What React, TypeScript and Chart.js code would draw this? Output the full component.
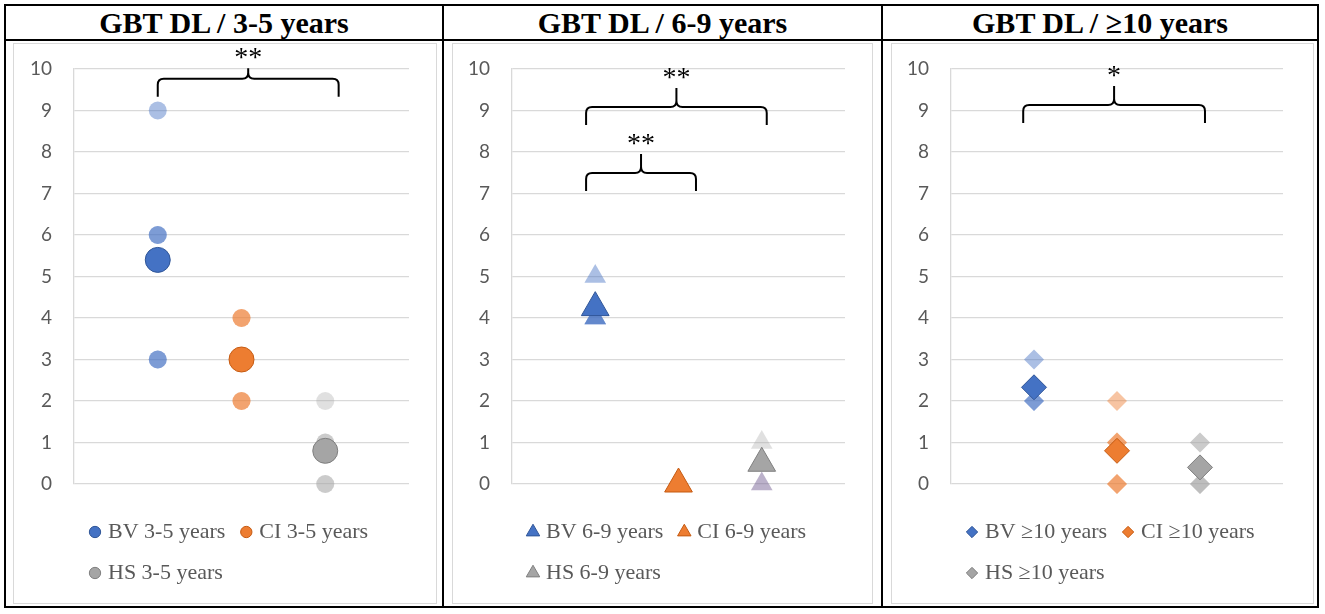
import { useEffect, useRef } from 'react';
import { Chart, registerables } from 'chart.js';

Chart.register(...registerables);

const panelTitles = ['GBT DL / 3-5 years', 'GBT DL / 6-9 years', 'GBT DL / ≥10 years'];
const ageLabels = ['3-5 years', '6-9 years', '≥10 years'];
const groups = ['BV', 'CI', 'HS'];
const groupX = [1, 2, 3];

// individual scores (stacked dots show up darker)
const bv35 = [9, 6, 6, 3, 3];
const ci35 = [4, 4, 3, 2, 2];
const hs35 = [2, 1, 1, 0, 0];
const bv69 = [5, 4, 4, 4];
const ci69 = [0, 0, 0];
const hs69 = [1, 0];
const bv10 = [3, 2, 2];
const ci10 = [2, 1, 1, 0, 0];
const hs10 = [1, 1, 0, 0, 0];

// group means (the big markers)
const means35 = [5.4, 3, 0.8];
const means69 = [4.25, 0, 0.5];
const means10 = [2.33, 0.8, 0.4];

// significance brackets: x from/to, leg ends (low) and tip (high) in score units
const brackets35 = [{ from: 1, to: 3.16, low: 9.33, high: 10.02, label: '**' }];
const brackets69 = [
  { from: 0.89, to: 3.06, low: 8.65, high: 9.54, label: '**' },
  { from: 0.89, to: 2.21, low: 7.06, high: 7.95, label: '**' },
];
const brackets10 = [{ from: 0.87, to: 3.06, low: 8.7, high: 9.59, label: '*' }];

const solid = ['#4472C4', '#ED7D31', '#A5A5A5'];
const edge = ['#2F5597', '#C55A11', '#7F7F7F'];
const faint = ['rgba(68,114,196,0.45)', 'rgba(237,125,49,0.45)', 'rgba(165,165,165,0.35)'];

type Bracket = { from: number; to: number; low: number; high: number; label: string };

type PanelDef = {
  scores: number[][];
  means: number[];
  brackets: Bracket[];
  style: string;
  r: number;
  meanR: number;
  legendBox: number;
  boxLeft: number;
  boxWidth: number;
  axisW: number;
  padRight: number;
  tints?: (string | string[])[];
};

const panels: PanelDef[] = [
  {
    scores: [bv35, ci35, hs35], means: means35, brackets: brackets35,
    style: 'circle', r: 9, meanR: 12.5, legendBox: 8,
    boxLeft: 13, boxWidth: 424, axisW: 60, padRight: 27,
  },
  {
    scores: [bv69, ci69, hs69], means: means69, brackets: brackets69,
    style: 'triangle', r: 12.5, meanR: 16, legendBox: 11,
    boxLeft: 452, boxWidth: 421, axisW: 59, padRight: 27,
    tints: [faint[0], faint[1], [faint[2], 'rgba(120,100,150,0.5)']],
  },
  {
    scores: [bv10, ci10, hs10], means: means10, brackets: brackets10,
    style: 'rectRot', r: 10, meanR: 12.5, legendBox: 8,
    boxLeft: 891, boxWidth: 423, axisW: 59, padRight: 30,
  },
];

const colLeft = [6, 444, 883];
const colWidth = [436, 437, 434];

function ScatterPanel({ p, age }: { p: PanelDef; age: string }) {
  const chartRef = useRef<HTMLCanvasElement | null>(null);

  useEffect(() => {
    if (!chartRef.current) return;

    const datasets: any[] = [];
    groups.forEach((g, i) => {
      datasets.push({
        label: `${g} ${age}`,
        data: [{ x: groupX[i], y: p.means[i] }],
        pointStyle: p.style,
        pointRadius: p.meanR,
        backgroundColor: solid[i],
        borderColor: edge[i],
        borderWidth: 1,
        clip: false,
        order: 0,
      });
    });
    groups.forEach((g, i) => {
      datasets.push({
        label: `${g} scores`,
        isScore: true,
        data: p.scores[i].map((v) => ({ x: groupX[i], y: v })),
        pointStyle: p.style,
        pointRadius: p.r,
        backgroundColor: p.tints ? p.tints[i] : faint[i],
        borderWidth: 0,
        clip: false,
        order: 1,
      });
    });

    const bracketPlugin = {
      id: 'brackets',
      afterDraw(chart: any) {
        const { ctx } = chart;
        const xs = chart.scales.x;
        const ys = chart.scales.y;
        ctx.save();
        ctx.strokeStyle = '#000';
        ctx.lineWidth = 2;
        ctx.fillStyle = '#000';
        ctx.font = '28px "Liberation Serif"';
        ctx.textAlign = 'center';
        ctx.textBaseline = 'alphabetic';
        for (const b of p.brackets) {
          const x1 = xs.getPixelForValue(b.from);
          const x2 = xs.getPixelForValue(b.to);
          const xm = (x1 + x2) / 2;
          const yLow = ys.getPixelForValue(b.low);
          const yTip = ys.getPixelForValue(b.high);
          const yBar = yLow - 18;
          const r = 6;
          ctx.beginPath();
          ctx.moveTo(x1, yLow);
          ctx.lineTo(x1, yBar + r);
          ctx.quadraticCurveTo(x1, yBar, x1 + r, yBar);
          ctx.lineTo(xm - r, yBar);
          ctx.quadraticCurveTo(xm, yBar, xm, yBar - r);
          ctx.lineTo(xm, yTip);
          ctx.moveTo(xm, yBar - r);
          ctx.quadraticCurveTo(xm, yBar, xm + r, yBar);
          ctx.lineTo(x2 - r, yBar);
          ctx.quadraticCurveTo(x2, yBar, x2, yBar + r);
          ctx.lineTo(x2, yLow);
          ctx.stroke();
          ctx.fillText(b.label, xm, yTip - 2);
        }
        ctx.restore();
      },
    };

    const chart = new Chart(chartRef.current, {
      type: 'scatter',
      data: { datasets },
      options: {
        animation: false,
        responsive: true,
        maintainAspectRatio: false,
        events: [],
        layout: { padding: { top: 25, right: p.padRight, bottom: 9, left: 0 } },
        scales: {
          x: {
            type: 'linear',
            min: 0,
            max: 4,
            ticks: { display: false },
            grid: { display: false },
            border: { display: false },
            afterFit: (s: any) => {
              s.height = 18;
            },
          },
          y: {
            min: 0,
            max: 10,
            ticks: {
              stepSize: 1,
              padding: 22,
              color: '#595959',
              font: { family: 'Lato', size: 19 },
            },
            grid: { color: '#D9D9D9', lineWidth: 1.3, drawTicks: false },
            border: { display: true, color: '#D9D9D9', width: 1.3 },
            afterFit: (s: any) => {
              s.width = p.axisW;
              s.paddingTop = 0;
              s.paddingBottom = 0;
            },
          },
        },
        plugins: {
          tooltip: { enabled: false },
          legend: {
            position: 'bottom',
            fullSize: false,
            align: 'start',
            labels: {
              usePointStyle: true,
              boxWidth: 4,
              boxHeight: p.legendBox,
              padding: 19,
              color: '#595959',
              font: { family: 'Liberation Serif', size: 22 },
              filter: (item: any, data: any) => !data.datasets[item.datasetIndex].isScore,
            },
          },
        },
      } as any,
      plugins: [bracketPlugin],
    });

    return () => chart.destroy();
  }, [p, age]);

  return (
    <div
      style={{
        position: 'absolute',
        left: p.boxLeft,
        top: 43,
        width: p.boxWidth,
        height: 561,
        border: '1px solid #D9D9D9',
        boxSizing: 'border-box',
      }}
    >
      <div style={{ position: 'relative', width: p.boxWidth - 2, height: 559 }}>
        <canvas ref={chartRef}></canvas>
      </div>
    </div>
  );
}

export default function App() {
  return (
    <div
      style={{
        position: 'absolute',
        left: 0,
        top: 0,
        width: 1325,
        height: 614,
        background: '#fff',
        overflow: 'hidden',
      }}
    >
      <div
        style={{
          position: 'absolute',
          left: 4,
          top: 4,
          width: 1315,
          height: 604,
          border: '2px solid #000',
          boxSizing: 'border-box',
        }}
      />
      <div style={{ position: 'absolute', left: 4, top: 39, width: 1315, height: 2, background: '#000' }} />
      <div style={{ position: 'absolute', left: 442, top: 4, width: 2, height: 604, background: '#000' }} />
      <div style={{ position: 'absolute', left: 881, top: 4, width: 2, height: 604, background: '#000' }} />
      {panelTitles.map((t, i) => (
        <div
          key={t}
          style={{
            position: 'absolute',
            left: colLeft[i],
            top: 6,
            width: colWidth[i],
            height: 33,
            lineHeight: '33px',
            textAlign: 'center',
            fontFamily: '"Liberation Serif", serif',
            fontWeight: 'bold',
            fontSize: 30,
            color: '#000',
            whiteSpace: 'nowrap',
          }}
        >
          {t}
        </div>
      ))}
      {panels.map((p, i) => (
        <ScatterPanel key={i} p={p} age={ageLabels[i]} />
      ))}
    </div>
  );
}
